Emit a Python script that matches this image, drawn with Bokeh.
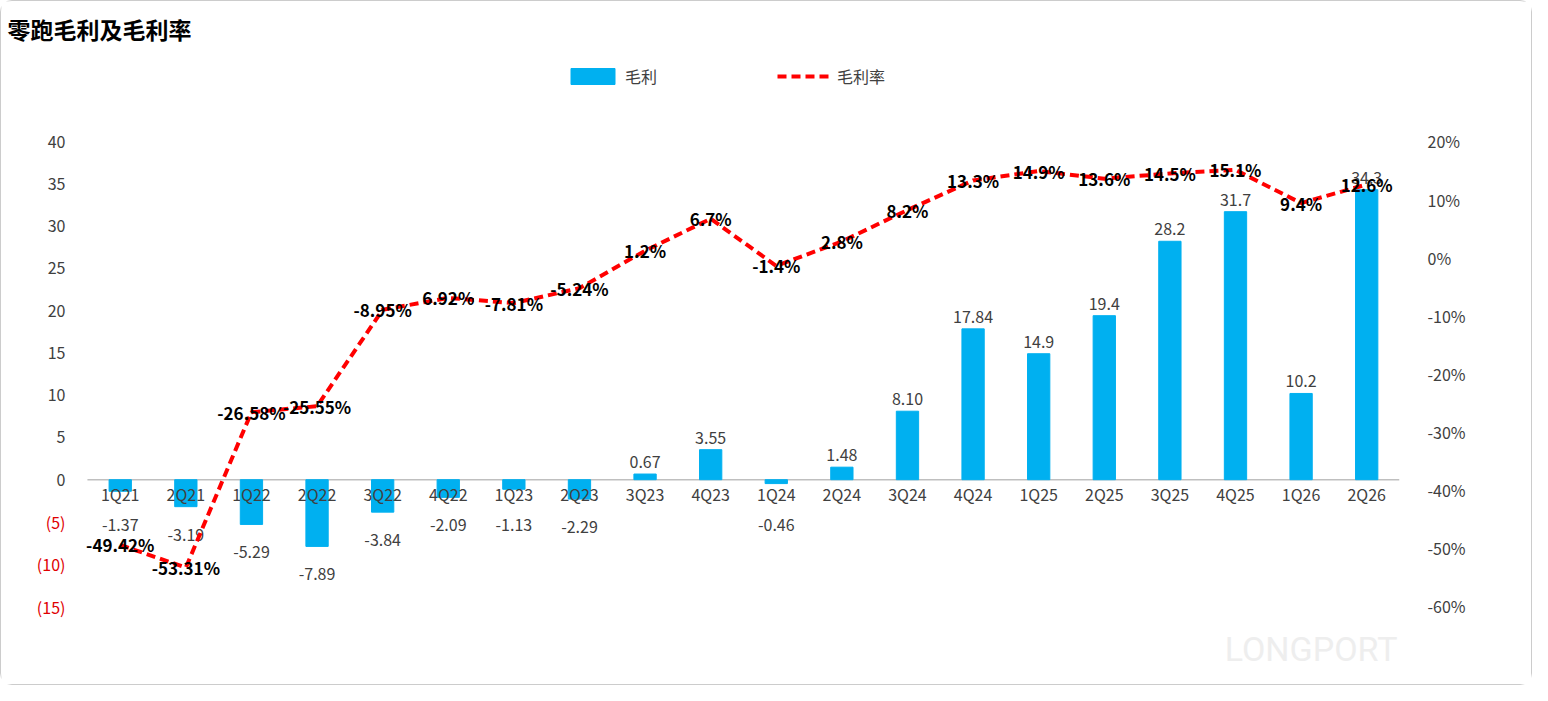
from bokeh.plotting import figure
from bokeh.models import (ColumnDataSource, Range1d, LinearAxis, CustomJSTickFormatter,
                          FixedTicker, Label, Legend, LegendItem)
from bokeh.core.properties import value
from bokeh.embed import file_html
from bokeh.resources import INLINE

quarters = ["1Q21", "2Q21", "1Q22", "2Q22", "3Q22", "4Q22", "1Q23", "2Q23", "3Q23", "4Q23", "1Q24",
            "2Q24", "3Q24", "4Q24", "1Q25", "2Q25", "3Q25", "4Q25", "1Q26", "2Q26"]
gross_profit = [-1.37, -3.19, -5.29, -7.89, -3.84, -2.09, -1.13, -2.29, 0.67, 3.55, -0.46,
                1.48, 8.10, 17.84, 14.9, 19.4, 28.2, 31.7, 10.2, 34.3]
profit_labels = ["-1.37", "-3.19", "-5.29", "-7.89", "-3.84", "-2.09", "-1.13", "-2.29", "0.67", "3.55",
                 "-0.46", "1.48", "8.10", "17.84", "14.9", "19.4", "28.2", "31.7", "10.2", "34.3"]
margin = [-49.42, -53.31, -26.58, -25.55, -8.95, -6.92, -7.81, -5.24, 1.2, 6.7, -1.4,
          2.8, 8.2, 13.3, 14.9, 13.6, 14.5, 15.1, 9.4, 12.6]
margin_labels = ["-49.42%", "-53.31%", "-26.58%", "-25.55%", "-8.95%", "6.92%", "-7.81%", "-5.24%",
                 "1.2%", "6.7%", "-1.4%", "2.8%", "8.2%", "13.3%", "14.9%", "13.6%", "14.5%",
                 "15.1%", "9.4%", "12.6%"]
left_ticks = [40, 35, 30, 25, 20, 15, 10, 5, 0, -5, -10, -15]
right_ticks = [20, 10, 0, -10, -20, -30, -40, -50, -60]

FONT = "Noto Sans CJK SC"
BLUE = "#00B0F0"
W, H = 1532, 685

xs = [i + 0.5 for i in range(len(quarters))]
lab_y = [v if v > 0 else min(v, -2.0) for v in gross_profit]
lab_off = [(-6 if v > 0 else 34) for v in gross_profit]
src = ColumnDataSource(dict(x=xs, q=quarters, gp=gross_profit, gpl=profit_labels, laby=lab_y,
                            laboff=lab_off, m=margin, ml=margin_labels, zero=[0] * len(quarters)))

# frame fills the canvas (except the right axis) so every text stays inside it
p = figure(x_range=Range1d(-1.31, 20), y_range=Range1d(-24.46, 56.56),
           width=W, height=H, output_backend="svg", toolbar_location=None,
           min_border_left=0, min_border_right=134, min_border_top=0, min_border_bottom=0,
           styles={"border": "1px solid #cccccc", "border-radius": "12px"})
p.extra_y_ranges = {"pct": Range1d(-73.77, 44.08)}
p.xgrid.visible = False
p.ygrid.visible = False
p.outline_line_color = None
p.xaxis.visible = False
p.yaxis.visible = False

ra = LinearAxis(y_range_name="pct", ticker=FixedTicker(ticks=right_ticks),
                formatter=CustomJSTickFormatter(code="return tick + '%'"))
ra.axis_line_color = None
ra.major_tick_line_color = None
ra.minor_tick_line_color = None
ra.major_label_text_font = FONT
ra.major_label_text_font_size = "16px"
ra.major_label_text_color = "#404040"
ra.major_label_standoff = 22
p.add_layout(ra, "right")

p.add_layout(Label(x=6, y=H - 44, x_units="screen", y_units="screen", text="零跑毛利及毛利率",
                   text_font=FONT, text_font_size="23px", text_font_style="bold", text_color="black"))

for t in left_ticks:
    txt = str(t) if t >= 0 else "(%d)" % (-t)
    p.add_layout(Label(x=0, y=t, x_offset=-22, text=txt, text_align="right", text_baseline="middle",
                       text_font=FONT, text_font_size="16px",
                       text_color="#404040" if t >= 0 else "#E00000"))

p.segment(x0=[0], y0=[0], x1=[20], y1=[0], line_color="#bfbfbf", line_width=1.5)

bars = p.vbar(x="x", top="gp", width=0.34, source=src, color=BLUE)
p.text(x="x", y="zero", text="q", source=src, y_offset=2, text_align="center",
       text_baseline="top", text_font=value(FONT), text_font_size="16px", text_color="#404040")
p.text(x="x", y="laby", text="gpl", source=src, y_offset="laboff",
       text_align="center", text_baseline="bottom", text_font=value(FONT), text_font_size="16px",
       text_color="#404040")

line = p.line(x="x", y="m", source=src, y_range_name="pct", line_color="#FF0000", line_width=4,
              line_dash="9 5")
p.text(x="x", y="m", text="ml", source=src, y_range_name="pct", text_align="center",
       text_baseline="middle", text_font=value(FONT), text_font_size="17px",
       text_font_style="bold", text_color="black")

legend = Legend(items=[LegendItem(label="毛利", renderers=[bars]),
                       LegendItem(label="毛利率", renderers=[line])],
                orientation="horizontal", location=(564, 598), spacing=120,
                label_text_font=FONT, label_text_font_size="16px", label_text_color="#404040",
                glyph_width=55, background_fill_alpha=0, border_line_color=None)
p.add_layout(legend, "center")

p.add_layout(Label(x=W - 136, y=18, x_units="screen", y_units="screen", text="LONGPORT",
                   text_align="right", text_font="Roboto", text_font_size="34px", text_color="#eeeeee"))

open("out.html", "w").write(file_html(p, INLINE))
